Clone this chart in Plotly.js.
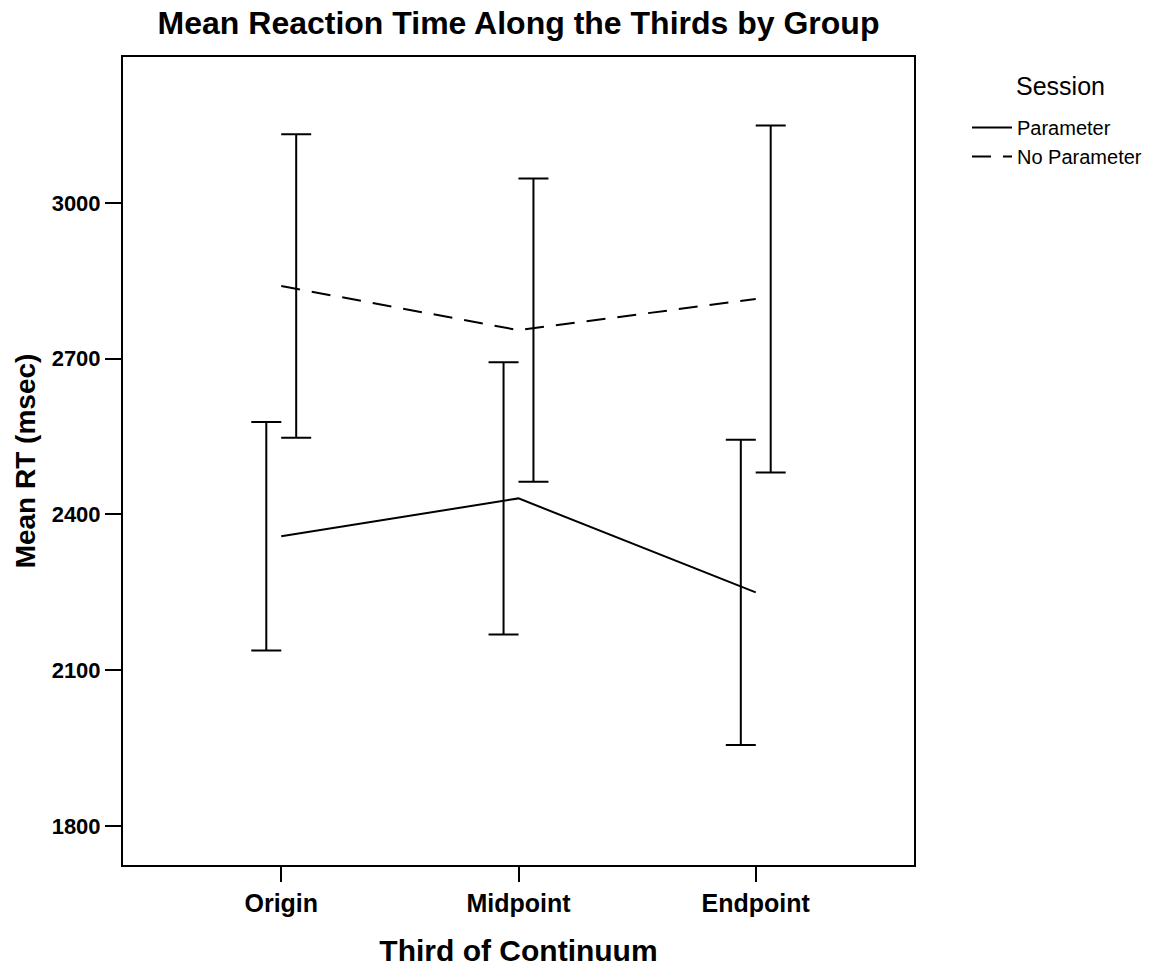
<!DOCTYPE html>
<html>
<head>
<meta charset="utf-8">
<script src="https://cdn.plot.ly/plotly-3.0.1.min.js"></script>
<style>
  html, body { margin: 0; padding: 0; background: #ffffff; }
  #chart { width: 1164px; height: 970px; }
</style>
</head>
<body>
<div id="chart"></div>
<script>
// Thirds of the continuum (x categories)
const thirds = ["Origin", "Midpoint", "Endpoint"];

// Session groups
const sessions = ["Parameter", "No Parameter"];

// Mean reaction time (msec) per third
const meanParameter = [2358, 2431, 2250];
const meanNoParameter = [2840, 2755, 2815];

// Half-width of the error bars (msec)
const errParameter = [220, 262, 294];
const errNoParameter = [292, 292, 334];

// Y tick values
const yTicks = [1800, 2100, 2400, 2700, 3000];

const FONT = "Liberation Sans, Arial, Helvetica, sans-serif";
const pos = thirds.map((_, i) => i);
const barShift = 0.063; // bars of each session sit slightly either side of the category

const meanTrace = (name, y, dash) => ({
  type: "scatter",
  mode: "lines",
  name: name,
  x: pos,
  y: y,
  line: { color: "#000000", width: 2, dash: dash },
  hoverinfo: "x+y"
});

const barTrace = (name, y, err, shift) => ({
  type: "scatter",
  mode: "markers",
  name: name,
  showlegend: false,
  x: pos.map(p => p + shift),
  y: y,
  marker: { size: 1, color: "rgba(0,0,0,0)" },
  error_y: {
    type: "data",
    symmetric: true,
    array: err,
    color: "#000000",
    thickness: 2,
    width: 15
  },
  hoverinfo: "skip"
});

const data = [
  meanTrace(sessions[0], meanParameter, "solid"),
  meanTrace(sessions[1], meanNoParameter, "19px,12px"),
  barTrace(sessions[0], meanParameter, errParameter, -barShift),
  barTrace(sessions[1], meanNoParameter, errNoParameter, barShift)
];

const layout = {
  width: 1164,
  height: 970,
  paper_bgcolor: "#ffffff",
  plot_bgcolor: "#ffffff",
  margin: { l: 123, r: 250, t: 57, b: 105 },
  font: { family: FONT, color: "#000000" },
  title: {
    text: "Mean Reaction Time Along the Thirds by Group",
    font: { family: FONT, size: 32, weight: "bold", color: "#000000" },
    x: 0.5,
    xref: "paper",
    xanchor: "center",
    y: 1 - 23 / 970,
    yref: "container",
    yanchor: "middle"
  },
  xaxis: {
    range: [-0.667, 2.667],
    tickmode: "array",
    tickvals: pos,
    ticktext: thirds,
    ticks: "outside",
    ticklen: 15,
    tickwidth: 2,
    tickcolor: "#000000",
    tickfont: { family: FONT, size: 25, weight: "bold", color: "#000000" },
    showgrid: false,
    zeroline: false,
    showline: true,
    linecolor: "#000000",
    linewidth: 2,
    mirror: true,
    title: {
      text: "Third of Continuum",
      font: { family: FONT, size: 30, weight: "bold", color: "#000000" },
      standoff: 24
    }
  },
  yaxis: {
    range: [1725, 3281],
    tickmode: "array",
    tickvals: yTicks,
    ticktext: yTicks.map(String),
    ticks: "outside",
    ticklen: 16,
    tickwidth: 2,
    tickcolor: "#000000",
    tickfont: { family: FONT, size: 22, weight: "bold", color: "#000000" },
    showgrid: false,
    zeroline: false,
    showline: true,
    linecolor: "#000000",
    linewidth: 2,
    mirror: true,
    title: {
      text: "Mean RT (msec)",
      font: { family: FONT, size: 28, weight: "bold", color: "#000000" },
      standoff: 8
    }
  },
  legend: {
    x: (975 - 8 - 123) / 791,
    xanchor: "left",
    y: (865 - 108) / 808,
    yanchor: "top",
    bgcolor: "rgba(0,0,0,0)",
    font: { family: FONT, size: 20, color: "#000000" },
    itemwidth: 40,
    tracegroupgap: 0
  },
  annotations: [{
    text: "Session",
    xref: "paper",
    yref: "paper",
    x: (1060 - 123) / 791,
    y: (865 - 86) / 808,
    xanchor: "center",
    yanchor: "middle",
    showarrow: false,
    font: { family: FONT, size: 25, color: "#000000" }
  }],
  showlegend: true
};

Plotly.newPlot("chart", data, layout, { displayModeBar: false, staticPlot: true });
</script>
</body>
</html>
